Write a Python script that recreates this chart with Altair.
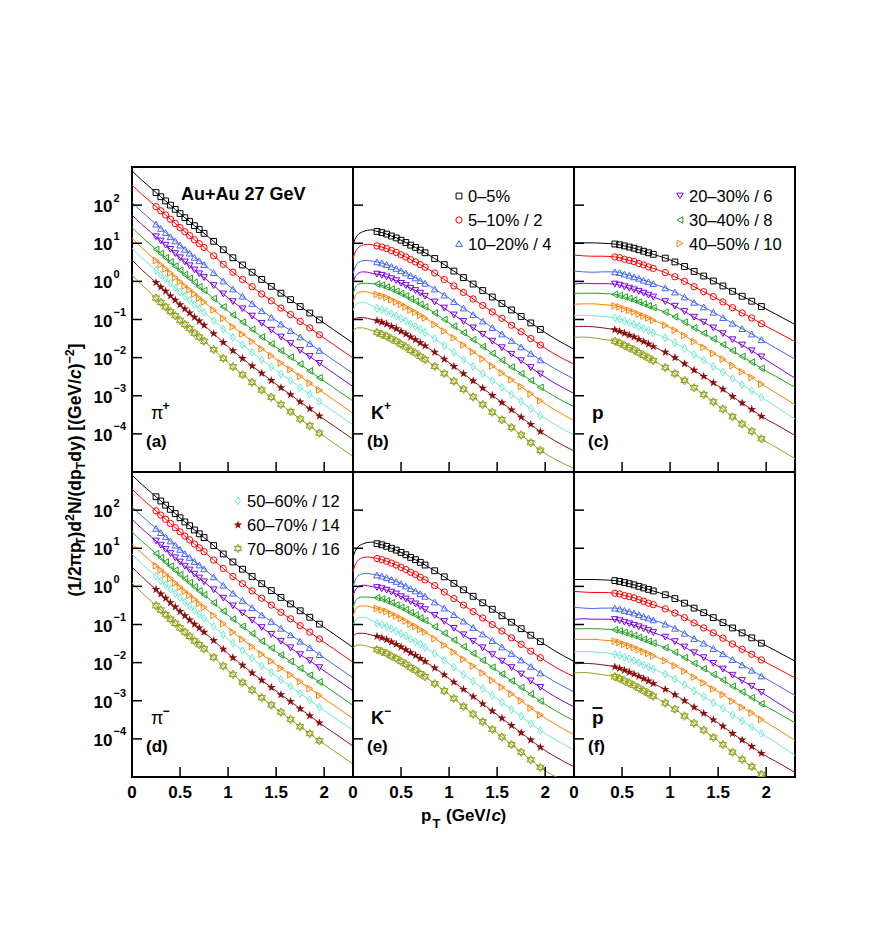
import altair as alt
import pandas as pd

# ---------------- data (log10 of invariant yield) ----------------
CENT = ["0–5%", "5–10% / 2", "10–20% / 4", "20–30% / 6", "30–40% / 8",
        "40–50% / 10", "50–60% / 12", "60–70% / 14", "70–80% / 16"]

G_PI = [0, 0.1, 0.2, 0.25, 0.3, 0.35, 0.4, 0.45, 0.5, 0.55, 0.6, 0.65, 0.7, 0.75,
        0.85, 0.95, 1.05, 1.15, 1.25, 1.35, 1.45, 1.55, 1.65, 1.75, 1.85, 1.95, 2.1, 2.3]
G_K = [0, 0.02, 0.05, 0.1, 0.15, 0.2, 0.25, 0.3, 0.35, 0.4, 0.45, 0.5, 0.55, 0.6, 0.65, 0.7, 0.75,
       0.85, 0.95, 1.05, 1.15, 1.25, 1.35, 1.45, 1.55, 1.65, 1.75, 1.85, 1.95, 2.1, 2.3]
G_P = [0, 0.1, 0.2, 0.3, 0.425, 0.475, 0.525, 0.575, 0.625, 0.675, 0.725, 0.775, 0.825,
       0.95, 1.05, 1.15, 1.25, 1.35, 1.45, 1.55, 1.65, 1.75, 1.85, 1.95, 2.1, 2.3]
MRK_PI = (0.25, 1.95)
MRK_K = (0.25, 1.95)
MRK_P = (0.42, 1.96)

PIP_1 = [2.90, 2.66, 2.44, 2.33, 2.22, 2.11, 2.00, 1.89, 1.78, 1.67, 1.57, 1.46, 1.36, 1.26, 1.05, 0.83, 0.62, 0.43, 0.24, 0.05, -0.13, -0.31, -0.48, -0.66, -0.83, -1.01, -1.27, -1.62]
PIP_2 = [2.53, 2.29, 2.07, 1.96, 1.85, 1.74, 1.63, 1.52, 1.41, 1.30, 1.20, 1.09, 0.99, 0.89, 0.67, 0.45, 0.24, 0.05, -0.14, -0.33, -0.51, -0.70, -0.87, -1.05, -1.22, -1.40, -1.66, -2.01]
PIP_3 = [2.07, 1.83, 1.61, 1.50, 1.39, 1.28, 1.17, 1.06, 0.95, 0.84, 0.74, 0.63, 0.54, 0.44, 0.23, 0.01, -0.20, -0.39, -0.58, -0.77, -0.94, -1.12, -1.29, -1.46, -1.63, -1.81, -2.07, -2.42]
PIP_4 = [1.74, 1.50, 1.28, 1.17, 1.06, 0.95, 0.84, 0.73, 0.62, 0.51, 0.41, 0.30, 0.20, 0.10, -0.11, -0.33, -0.53, -0.72, -0.91, -1.10, -1.28, -1.46, -1.63, -1.81, -1.97, -2.15, -2.41, -2.76]
PIP_5 = [1.41, 1.17, 0.95, 0.84, 0.73, 0.62, 0.51, 0.40, 0.29, 0.18, 0.08, -0.03, -0.14, -0.24, -0.45, -0.67, -0.88, -1.07, -1.26, -1.46, -1.64, -1.82, -1.99, -2.17, -2.35, -2.53, -2.79, -3.14]
PIP_6 = [1.13, 0.89, 0.66, 0.55, 0.44, 0.33, 0.22, 0.10, -0.01, -0.12, -0.22, -0.33, -0.44, -0.54, -0.75, -0.97, -1.19, -1.38, -1.57, -1.77, -1.95, -2.14, -2.31, -2.49, -2.67, -2.85, -3.11, -3.46]
PIP_7 = [0.87, 0.62, 0.40, 0.29, 0.17, 0.06, -0.05, -0.17, -0.28, -0.39, -0.49, -0.61, -0.71, -0.81, -1.03, -1.25, -1.47, -1.66, -1.86, -2.06, -2.24, -2.43, -2.60, -2.79, -2.96, -3.15, -3.41, -3.76]
PIP_8 = [0.56, 0.31, 0.08, -0.03, -0.15, -0.26, -0.38, -0.49, -0.61, -0.72, -0.83, -0.94, -1.04, -1.15, -1.37, -1.60, -1.82, -2.02, -2.22, -2.41, -2.60, -2.79, -2.97, -3.16, -3.34, -3.53, -3.79, -4.14]
PIP_9 = [0.16, -0.09, -0.32, -0.44, -0.55, -0.67, -0.79, -0.90, -1.02, -1.13, -1.24, -1.36, -1.46, -1.57, -1.79, -2.02, -2.24, -2.45, -2.65, -2.85, -3.04, -3.23, -3.42, -3.61, -3.79, -3.98, -4.24, -4.59]

PIM_1 = [2.92, 2.68, 2.46, 2.35, 2.24, 2.13, 2.02, 1.91, 1.80, 1.69, 1.59, 1.48, 1.38, 1.28, 1.07, 0.85, 0.64, 0.45, 0.26, 0.07, -0.11, -0.29, -0.46, -0.64, -0.81, -0.99, -1.25, -1.60]
PIM_2 = [2.55, 2.31, 2.09, 1.98, 1.87, 1.76, 1.65, 1.54, 1.43, 1.32, 1.22, 1.11, 1.01, 0.91, 0.69, 0.47, 0.26, 0.07, -0.12, -0.31, -0.49, -0.68, -0.85, -1.03, -1.20, -1.38, -1.64, -1.99]
PIM_3 = [2.09, 1.85, 1.63, 1.52, 1.41, 1.30, 1.19, 1.08, 0.97, 0.86, 0.76, 0.65, 0.56, 0.46, 0.25, 0.03, -0.18, -0.37, -0.56, -0.75, -0.92, -1.10, -1.27, -1.44, -1.61, -1.79, -2.05, -2.40]
PIM_4 = [1.76, 1.52, 1.30, 1.19, 1.08, 0.97, 0.86, 0.75, 0.64, 0.53, 0.43, 0.32, 0.22, 0.12, -0.09, -0.31, -0.51, -0.70, -0.89, -1.08, -1.26, -1.44, -1.61, -1.79, -1.95, -2.13, -2.39, -2.74]
PIM_5 = [1.43, 1.19, 0.97, 0.86, 0.75, 0.64, 0.53, 0.42, 0.31, 0.20, 0.10, -0.01, -0.12, -0.22, -0.43, -0.65, -0.86, -1.05, -1.24, -1.44, -1.62, -1.80, -1.97, -2.15, -2.33, -2.51, -2.77, -3.12]
PIM_6 = [1.12, 0.88, 0.65, 0.54, 0.43, 0.32, 0.21, 0.09, -0.02, -0.13, -0.23, -0.34, -0.45, -0.55, -0.76, -0.98, -1.20, -1.39, -1.58, -1.78, -1.96, -2.15, -2.32, -2.50, -2.68, -2.86, -3.12, -3.47]
PIM_7 = [0.85, 0.60, 0.38, 0.27, 0.15, 0.04, -0.07, -0.19, -0.30, -0.41, -0.51, -0.63, -0.73, -0.83, -1.05, -1.27, -1.49, -1.68, -1.88, -2.08, -2.26, -2.45, -2.62, -2.81, -2.98, -3.17, -3.43, -3.78]
PIM_8 = [0.51, 0.26, 0.03, -0.08, -0.20, -0.31, -0.43, -0.54, -0.66, -0.77, -0.88, -0.99, -1.09, -1.20, -1.42, -1.65, -1.87, -2.07, -2.27, -2.46, -2.65, -2.84, -3.02, -3.21, -3.39, -3.58, -3.84, -4.19]
PIM_9 = [0.09, -0.16, -0.39, -0.51, -0.62, -0.74, -0.86, -0.97, -1.09, -1.20, -1.31, -1.43, -1.53, -1.64, -1.86, -2.09, -2.31, -2.52, -2.72, -2.92, -3.11, -3.30, -3.49, -3.68, -3.86, -4.05, -4.31, -4.66]

KP_1 = [0.95, 1.10, 1.22, 1.30, 1.34, 1.35, 1.31, 1.28, 1.24, 1.19, 1.14, 1.08, 1.02, 0.95, 0.89, 0.82, 0.75, 0.60, 0.44, 0.27, 0.10, -0.07, -0.24, -0.41, -0.58, -0.75, -0.92, -1.09, -1.26, -1.50, -1.78]
KP_2 = [0.58, 0.75, 0.87, 0.95, 0.97, 0.96, 0.93, 0.90, 0.86, 0.81, 0.76, 0.70, 0.64, 0.57, 0.51, 0.44, 0.37, 0.22, 0.05, -0.12, -0.29, -0.46, -0.63, -0.80, -0.97, -1.15, -1.32, -1.50, -1.67, -1.91, -2.17]
KP_3 = [0.19, 0.36, 0.48, 0.54, 0.55, 0.53, 0.51, 0.48, 0.44, 0.39, 0.34, 0.28, 0.22, 0.15, 0.09, 0.02, -0.05, -0.20, -0.36, -0.53, -0.70, -0.87, -1.04, -1.21, -1.38, -1.55, -1.72, -1.89, -2.06, -2.29, -2.56]
KP_4 = [-0.03, 0.10, 0.20, 0.25, 0.24, 0.21, 0.19, 0.16, 0.12, 0.07, 0.02, -0.05, -0.11, -0.18, -0.24, -0.31, -0.39, -0.54, -0.70, -0.88, -1.05, -1.22, -1.39, -1.57, -1.74, -1.91, -2.08, -2.26, -2.43, -2.67, -2.94]
KP_5 = [-0.34, -0.18, -0.08, -0.05, -0.05, -0.06, -0.07, -0.10, -0.15, -0.20, -0.26, -0.32, -0.38, -0.46, -0.52, -0.60, -0.67, -0.83, -1.00, -1.18, -1.35, -1.53, -1.71, -1.89, -2.07, -2.25, -2.42, -2.60, -2.78, -3.02, -3.29]
KP_6 = [-0.55, -0.40, -0.30, -0.27, -0.28, -0.31, -0.34, -0.38, -0.42, -0.48, -0.54, -0.60, -0.67, -0.75, -0.81, -0.89, -0.96, -1.13, -1.30, -1.48, -1.67, -1.85, -2.03, -2.22, -2.40, -2.58, -2.76, -2.95, -3.13, -3.37, -3.65]
KP_7 = [-0.77, -0.65, -0.57, -0.55, -0.58, -0.64, -0.71, -0.75, -0.79, -0.85, -0.91, -0.98, -1.04, -1.12, -1.19, -1.26, -1.34, -1.50, -1.68, -1.86, -2.05, -2.23, -2.42, -2.60, -2.78, -2.97, -3.15, -3.34, -3.52, -3.75, -4.03]
KP_8 = [-1.03, -0.98, -0.95, -0.95, -0.97, -1.00, -1.03, -1.07, -1.12, -1.18, -1.24, -1.31, -1.38, -1.46, -1.53, -1.61, -1.69, -1.86, -2.04, -2.23, -2.42, -2.61, -2.80, -2.99, -3.18, -3.37, -3.56, -3.75, -3.94, -4.18, -4.45]
KP_9 = [-1.30, -1.25, -1.22, -1.22, -1.25, -1.29, -1.34, -1.39, -1.44, -1.51, -1.57, -1.65, -1.72, -1.81, -1.88, -1.97, -2.05, -2.23, -2.42, -2.62, -2.83, -3.03, -3.23, -3.43, -3.63, -3.83, -4.03, -4.23, -4.43, -4.66, -4.91]

KM_1 = [0.76, 0.91, 1.03, 1.11, 1.15, 1.16, 1.12, 1.09, 1.05, 1.00, 0.95, 0.89, 0.83, 0.76, 0.70, 0.63, 0.56, 0.41, 0.25, 0.08, -0.09, -0.26, -0.43, -0.60, -0.77, -0.94, -1.11, -1.28, -1.45, -1.69, -1.97]
KM_2 = [0.38, 0.55, 0.67, 0.75, 0.77, 0.76, 0.73, 0.70, 0.66, 0.61, 0.56, 0.50, 0.44, 0.37, 0.31, 0.24, 0.17, 0.02, -0.15, -0.32, -0.49, -0.66, -0.83, -1.00, -1.17, -1.35, -1.52, -1.70, -1.87, -2.11, -2.37]
KM_3 = [-0.02, 0.15, 0.27, 0.33, 0.34, 0.32, 0.30, 0.27, 0.23, 0.18, 0.13, 0.07, 0.01, -0.06, -0.12, -0.19, -0.26, -0.41, -0.57, -0.74, -0.91, -1.08, -1.25, -1.42, -1.59, -1.76, -1.93, -2.10, -2.27, -2.50, -2.77]
KM_4 = [-0.25, -0.12, -0.02, 0.03, 0.02, -0.01, -0.03, -0.06, -0.10, -0.15, -0.20, -0.27, -0.33, -0.40, -0.46, -0.53, -0.61, -0.76, -0.92, -1.10, -1.27, -1.44, -1.61, -1.79, -1.96, -2.13, -2.30, -2.48, -2.65, -2.89, -3.16]
KM_5 = [-0.57, -0.41, -0.31, -0.28, -0.28, -0.29, -0.30, -0.33, -0.38, -0.43, -0.49, -0.55, -0.61, -0.69, -0.75, -0.83, -0.90, -1.06, -1.23, -1.41, -1.58, -1.76, -1.94, -2.12, -2.30, -2.48, -2.65, -2.83, -3.01, -3.25, -3.52]
KM_6 = [-0.79, -0.64, -0.54, -0.51, -0.52, -0.55, -0.58, -0.62, -0.66, -0.72, -0.78, -0.84, -0.91, -0.99, -1.05, -1.13, -1.20, -1.37, -1.54, -1.72, -1.91, -2.09, -2.27, -2.46, -2.64, -2.82, -3.00, -3.19, -3.37, -3.61, -3.89]
KM_7 = [-1.03, -0.91, -0.83, -0.81, -0.84, -0.90, -0.97, -1.01, -1.05, -1.11, -1.17, -1.24, -1.30, -1.38, -1.45, -1.52, -1.60, -1.76, -1.94, -2.12, -2.31, -2.49, -2.68, -2.86, -3.04, -3.23, -3.41, -3.60, -3.78, -4.01, -4.29]
KM_8 = [-1.31, -1.26, -1.23, -1.23, -1.25, -1.28, -1.31, -1.35, -1.40, -1.46, -1.52, -1.59, -1.66, -1.74, -1.81, -1.89, -1.97, -2.14, -2.32, -2.51, -2.70, -2.89, -3.08, -3.27, -3.46, -3.65, -3.84, -4.03, -4.22, -4.46, -4.73]
KM_9 = [-1.62, -1.57, -1.54, -1.54, -1.57, -1.61, -1.66, -1.71, -1.76, -1.83, -1.89, -1.97, -2.04, -2.13, -2.20, -2.29, -2.37, -2.55, -2.74, -2.94, -3.15, -3.35, -3.55, -3.75, -3.95, -4.15, -4.35, -4.55, -4.75, -4.98, -5.23]

PR_1 = [1.01, 1.01, 1.01, 1.00, 0.98, 0.96, 0.93, 0.90, 0.87, 0.83, 0.79, 0.75, 0.71, 0.61, 0.51, 0.39, 0.26, 0.14, 0.01, -0.12, -0.26, -0.39, -0.52, -0.66, -0.86, -1.13]
PR_2 = [0.69, 0.67, 0.66, 0.66, 0.64, 0.62, 0.58, 0.55, 0.52, 0.47, 0.43, 0.38, 0.34, 0.23, 0.12, 0.00, -0.14, -0.27, -0.40, -0.54, -0.69, -0.83, -0.96, -1.11, -1.31, -1.58]
PR_3 = [0.27, 0.25, 0.24, 0.25, 0.25, 0.23, 0.19, 0.16, 0.12, 0.08, 0.03, -0.01, -0.06, -0.17, -0.28, -0.41, -0.55, -0.67, -0.81, -0.95, -1.10, -1.24, -1.38, -1.53, -1.75, -2.04]
PR_4 = [-0.07, -0.05, -0.06, -0.06, -0.07, -0.10, -0.14, -0.18, -0.22, -0.26, -0.31, -0.36, -0.41, -0.53, -0.65, -0.79, -0.94, -1.07, -1.22, -1.37, -1.53, -1.67, -1.82, -1.98, -2.22, -2.54]
PR_5 = [-0.32, -0.31, -0.31, -0.32, -0.34, -0.37, -0.41, -0.45, -0.49, -0.54, -0.59, -0.64, -0.69, -0.81, -0.93, -1.07, -1.22, -1.36, -1.51, -1.66, -1.82, -1.97, -2.12, -2.28, -2.49, -2.78]
PR_6 = [-0.60, -0.59, -0.59, -0.61, -0.64, -0.67, -0.72, -0.76, -0.80, -0.86, -0.91, -0.96, -1.02, -1.15, -1.28, -1.42, -1.58, -1.73, -1.89, -2.04, -2.21, -2.37, -2.52, -2.69, -2.92, -3.24]
PR_7 = [-0.90, -0.89, -0.90, -0.92, -0.96, -0.99, -1.04, -1.08, -1.13, -1.18, -1.24, -1.29, -1.35, -1.48, -1.61, -1.76, -1.92, -2.07, -2.23, -2.38, -2.55, -2.71, -2.87, -3.04, -3.28, -3.61]
PR_8 = [-1.19, -1.18, -1.19, -1.22, -1.27, -1.31, -1.36, -1.41, -1.46, -1.52, -1.58, -1.64, -1.71, -1.86, -2.00, -2.16, -2.33, -2.49, -2.66, -2.83, -3.02, -3.19, -3.36, -3.54, -3.75, -4.04]
PR_9 = [-1.47, -1.46, -1.48, -1.52, -1.57, -1.62, -1.68, -1.74, -1.80, -1.87, -1.94, -2.01, -2.08, -2.26, -2.42, -2.60, -2.79, -2.97, -3.16, -3.35, -3.55, -3.74, -3.93, -4.13, -4.35, -4.65]

PB_1 = [0.18, 0.18, 0.18, 0.17, 0.15, 0.13, 0.10, 0.07, 0.04, 0.00, -0.04, -0.08, -0.12, -0.22, -0.32, -0.44, -0.57, -0.69, -0.82, -0.95, -1.09, -1.22, -1.35, -1.49, -1.69, -1.96]
PB_2 = [-0.13, -0.15, -0.16, -0.16, -0.18, -0.20, -0.24, -0.27, -0.30, -0.35, -0.39, -0.44, -0.48, -0.59, -0.70, -0.82, -0.96, -1.09, -1.22, -1.36, -1.51, -1.65, -1.78, -1.93, -2.13, -2.40]
PB_3 = [-0.55, -0.57, -0.58, -0.57, -0.57, -0.59, -0.63, -0.66, -0.70, -0.74, -0.79, -0.83, -0.88, -0.99, -1.10, -1.23, -1.37, -1.49, -1.63, -1.77, -1.92, -2.06, -2.20, -2.35, -2.57, -2.86]
PB_4 = [-0.87, -0.85, -0.86, -0.86, -0.87, -0.90, -0.94, -0.98, -1.02, -1.06, -1.11, -1.16, -1.21, -1.33, -1.45, -1.59, -1.74, -1.87, -2.02, -2.17, -2.33, -2.47, -2.62, -2.78, -3.02, -3.34]
PB_5 = [-1.12, -1.11, -1.11, -1.12, -1.14, -1.17, -1.21, -1.25, -1.29, -1.34, -1.39, -1.44, -1.49, -1.61, -1.73, -1.87, -2.02, -2.16, -2.31, -2.46, -2.62, -2.77, -2.92, -3.08, -3.29, -3.58]
PB_6 = [-1.40, -1.39, -1.39, -1.41, -1.44, -1.47, -1.52, -1.56, -1.60, -1.66, -1.71, -1.76, -1.82, -1.95, -2.08, -2.22, -2.38, -2.53, -2.69, -2.84, -3.01, -3.17, -3.32, -3.49, -3.72, -4.04]
PB_7 = [-1.72, -1.71, -1.72, -1.74, -1.78, -1.81, -1.86, -1.90, -1.95, -2.00, -2.06, -2.11, -2.17, -2.30, -2.43, -2.58, -2.74, -2.89, -3.05, -3.20, -3.37, -3.53, -3.69, -3.86, -4.10, -4.43]
PB_8 = [-2.03, -2.02, -2.03, -2.06, -2.11, -2.15, -2.20, -2.25, -2.30, -2.36, -2.42, -2.48, -2.55, -2.70, -2.84, -3.00, -3.17, -3.33, -3.50, -3.67, -3.86, -4.03, -4.20, -4.38, -4.59, -4.88]
PB_9 = [-2.27, -2.26, -2.28, -2.32, -2.37, -2.42, -2.48, -2.54, -2.60, -2.67, -2.74, -2.81, -2.88, -3.06, -3.22, -3.40, -3.59, -3.77, -3.96, -4.15, -4.35, -4.54, -4.73, -4.93, -5.15, -5.45]

X_TICKS = [0.5, 1, 1.5, 2]
X_LABELS = [0, 0.5, 1, 1.5, 2]
X_LABEL_TEXT = ["0", "0.5", "1", "1.5", "2"]
Y_TICKS = [1e-4, 1e-3, 1e-2, 1e-1, 1, 10, 100]
Y_EXP = ["−4", "−3", "−2", "−1", "0", "1", "2"]

# ---------------- style ----------------
FONT = "Liberation Sans"
COLORS = ["#000000", "#ff0000", "#4466ff", "#8000e6", "#22a022", "#ff7f00", "#6fe8d0", "#8b0f0f", "#93a31f"]
DIAMOND = "M0,-1L0.62,0L0,1L-0.62,0Z"
STAR = ("M0,-1L0.225,-0.309L0.951,-0.309L0.363,0.118L0.588,0.809L0,0.382L-0.588,0.809"
        "L-0.363,0.118L-0.951,-0.309L-0.225,-0.309Z")
HEXA = "M0,-1L0.866,0.5L-0.866,0.5ZM0,1L0.866,-0.5L-0.866,-0.5Z"
SHAPES = ["square", "circle", "triangle-up", "triangle-down", "triangle-left", "triangle-right",
          DIAMOND, STAR, HEXA]
SIZES = [34, 40, 44, 44, 44, 44, 60, 85, 75]
W = 221
H = 305
DUMMY = pd.DataFrame({"d": [0]})
CW = {"(": .333, ")": .333, "1": .556, "2": .556, "/": .278, "π": .6, "p": .611, "T": .611,
      "d": .611, "N": .722, "y": .556, " ": .278, "[": .333, "]": .333, "G": .778,
      "e": .556, "V": .667, "c": .556, "−": .584}

XS = alt.Scale(domain=[0, 2.3], nice=False, zero=False)
YS = alt.Scale(type="log", domain=[1e-5, 1e3], nice=False)


def txt(s, x, y, size=17, weight="bold", style="normal", align="left", baseline="alphabetic", angle=0):
    kw = dict(text=s, fontSize=size, fontWeight=weight, fontStyle=style, align=align,
              baseline=baseline, font=FONT, color="black")
    if angle:
        kw["angle"] = angle
    return alt.Chart(DUMMY).mark_text(**kw).encode(x=alt.value(x), y=alt.value(y))


def width_of(pieces):
    return sum(sum(CW.get(ch, 0.6) for ch in t) * s for t, s, _, _ in pieces)


def seq(pieces, x0, y0):
    out = []
    pos = 0.0
    for t, size, shift, style in pieces:
        w = sum(CW.get(ch, 0.6) for ch in t) * size
        out.append(txt(t, x0 + shift, y0 - pos, size=size, style=style, angle=270))
        pos += w
    return out


def marker(i, x, y):
    if i == 7:
        m = alt.Chart(DUMMY).mark_point(shape=SHAPES[i], filled=True, size=SIZES[i], color=COLORS[i], opacity=1)
    else:
        m = alt.Chart(DUMMY).mark_point(shape=SHAPES[i], filled=False, size=SIZES[i], color=COLORS[i],
                                        strokeWidth=1, opacity=1)
    return m.encode(x=alt.value(x), y=alt.value(y))


def legend_rows(idx):
    out = []
    ys = [29, 53, 76.5]
    for k, i in enumerate(idx):
        out.append(marker(i, 106, ys[k]))
        out.append(txt(CENT[i], 115, ys[k] + 6, size=16.5, weight="normal"))
    return out


def panel(grid, series, mrange, bottom, left, extras):
    rows = []
    for name, vals in zip(CENT, series):
        for g, v in zip(grid, vals):
            rows.append({"pt": g, "y": 10 ** v, "series": name,
                         "m": bool(mrange[0] - 1e-9 <= g <= mrange[1] + 1e-9)})
    df = pd.DataFrame(rows)
    X = alt.X("pt:Q", scale=XS, axis=None)
    Y = alt.Y("y:Q", scale=YS, axis=None)
    col = alt.Color("series:N", scale=alt.Scale(domain=CENT, range=COLORS), legend=None)
    base = alt.Chart(df)
    layers = [base.mark_line(interpolate="monotone", strokeWidth=1, clip=True).encode(
        x=X, y=Y, color=col, detail="series:N")]
    for i, name in enumerate(CENT):
        pts = base.transform_filter(f"datum.m && datum.series == '{name}'")
        if i == 7:
            mk = pts.mark_point(filled=True, size=SIZES[i], opacity=1, clip=True, shape=SHAPES[i])
        else:
            mk = pts.mark_point(filled=False, strokeWidth=1, size=SIZES[i], opacity=1, clip=True,
                                shape=SHAPES[i])
        layers.append(mk.encode(x=X, y=Y, color=col))
    layers.append(alt.Chart(pd.DataFrame({"v": X_TICKS})).mark_rule(color="black", strokeWidth=1.5).encode(
        x=alt.X("v:Q", scale=XS, axis=None), y=alt.value(H), y2=alt.value(H - 10)))
    layers.append(alt.Chart(pd.DataFrame({"v": Y_TICKS})).mark_rule(color="black", strokeWidth=1.5).encode(
        y=alt.Y("v:Q", scale=YS, axis=None), x=alt.value(0), x2=alt.value(10)))
    if bottom:
        layers.append(alt.Chart(pd.DataFrame({"v": X_LABELS, "t": X_LABEL_TEXT})).mark_text(
            align="center", baseline="alphabetic", font=FONT, fontSize=17, fontWeight="bold",
            color="black").encode(x=alt.X("v:Q", scale=XS, axis=None), y=alt.value(H + 21), text="t:N"))
    if left:
        yl = pd.DataFrame({"v": Y_TICKS, "e": Y_EXP})
        layers.append(alt.Chart(yl).mark_text(
            text="10", align="left", baseline="alphabetic", font=FONT, fontSize=17, fontWeight="bold",
            color="black", dy=7).encode(y=alt.Y("v:Q", scale=YS, axis=None), x=alt.value(-38.5)))
        layers.append(alt.Chart(yl).mark_text(
            align="left", baseline="alphabetic", font=FONT, fontSize=11, fontWeight="bold",
            color="black", dy=-3.5).encode(y=alt.Y("v:Q", scale=YS, axis=None), x=alt.value(-18.5),
                                           text="e:N"))
    layers += extras
    return alt.layer(*layers).properties(width=W, height=H)


# ---------------- texts ----------------
YT_PIECES = [("(1/2πp", 17.5, 0, "normal"), ("T", 12.5, 4, "normal"), (")d", 17.5, 0, "normal"),
             ("2", 12.5, -7, "normal"), ("N/(dp", 17.5, 0, "normal"), ("T", 12.5, 4, "normal"),
             ("dy) [(GeV/", 17.5, 0, "normal"), ("c", 17.5, 0, "italic"), (")", 17.5, 0, "normal"),
             ("−2", 12.5, -7, "normal"), ("]", 17.5, 0, "normal")]
ytitle = seq(YT_PIECES, -51, 303 + width_of(YT_PIECES) / 2)

xtitle = [txt("p", 68, 349, size=17), txt("T", 79.5, 356, size=13), txt("(GeV/", 93, 349, size=17),
          txt("c", 138.5, 349, size=17, style="italic"), txt(")", 147.5, 349, size=17)]

ex_a = [txt("Au+Au 27 GeV", 49, 33, size=18),
        txt("π", 19, 252, size=18, weight="normal"), txt("+", 30.5, 243, size=12),
        txt("(a)", 14, 280)] + ytitle
ex_b = [txt("K", 18, 252, size=18), txt("+", 31, 243, size=12), txt("(b)", 14, 280)] + legend_rows([0, 1, 2])
ex_c = [txt("p", 18, 252, size=19), txt("(c)", 14, 280)] + legend_rows([3, 4, 5])
ex_d = [txt("π", 19, 252, size=18, weight="normal"), txt("−", 30.5, 243, size=12),
        txt("(d)", 14, 280)] + legend_rows([6, 7, 8])
ex_e = [txt("K", 18, 252, size=18), txt("−", 31, 243, size=12), txt("(e)", 14, 280)] + xtitle
ex_f = [txt("p", 18, 252, size=19), txt("(f)", 14, 280),
        alt.Chart(DUMMY).mark_rule(color="black", strokeWidth=1.8).encode(
            x=alt.value(18.5), x2=alt.value(28.5), y=alt.value(236))]

pa = panel(G_PI, [PIP_1, PIP_2, PIP_3, PIP_4, PIP_5, PIP_6, PIP_7, PIP_8, PIP_9], MRK_PI, False, True, ex_a)
pb = panel(G_K, [KP_1, KP_2, KP_3, KP_4, KP_5, KP_6, KP_7, KP_8, KP_9], MRK_K, False, False, ex_b)
pc = panel(G_P, [PR_1, PR_2, PR_3, PR_4, PR_5, PR_6, PR_7, PR_8, PR_9], MRK_P, False, False, ex_c)
pdn = panel(G_PI, [PIM_1, PIM_2, PIM_3, PIM_4, PIM_5, PIM_6, PIM_7, PIM_8, PIM_9], MRK_PI, True, True, ex_d)
pe = panel(G_K, [KM_1, KM_2, KM_3, KM_4, KM_5, KM_6, KM_7, KM_8, KM_9], MRK_K, True, False, ex_e)
pf = panel(G_P, [PB_1, PB_2, PB_3, PB_4, PB_5, PB_6, PB_7, PB_8, PB_9], MRK_P, True, False, ex_f)

chart = alt.concat(pa, pb, pc, pdn, pe, pf, columns=3, spacing=0, bounds="flush").properties(
    padding={"left": 55, "top": 158, "right": 5, "bottom": 5},
    background="white",
).configure_view(stroke="black", strokeWidth=2)

chart.save("out.html", embed_options={"renderer": "svg", "actions": False})
